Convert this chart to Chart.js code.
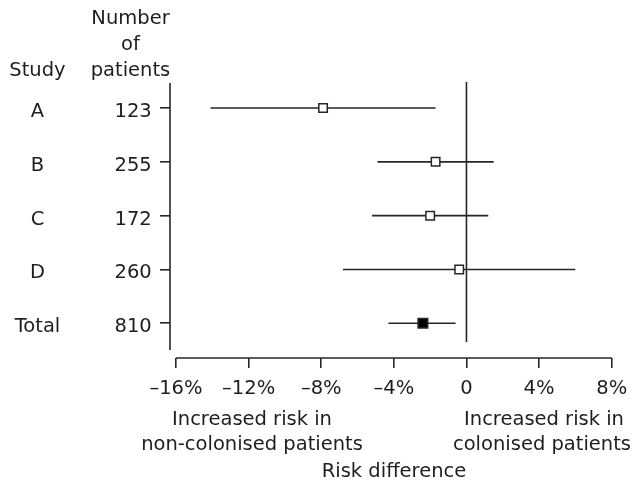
<!DOCTYPE html>
<html>
<head>
<meta charset="utf-8">
<script src="https://cdn.jsdelivr.net/npm/chart.js@4/dist/chart.umd.min.js"></script>
<style>
  html, body { margin: 0; padding: 0; background: #ffffff; }
  #wrap { width: 638px; height: 482px; }
</style>
</head>
<body>
<div id="wrap"><canvas id="forest" width="638" height="482"></canvas></div>
<script>
// Study rows, patient counts and risk differences (%) with 95% CI
const studies = ['A', 'B', 'C', 'D', 'Total'];
const patients = [123, 255, 172, 260, 810];
const riskDiff = [-7.9, -1.7, -2.0, -0.4, -2.4];
const ciLow = [-14.1, -4.9, -5.2, -6.8, -4.3];
const ciHigh = [-1.7, 1.5, 1.2, 6.0, -0.6];
const xTicks = [-16, -12, -8, -4, 0, 4, 8];

const INK = '#1e1e1e';
const LINE = '#262626';
const FONT = '"DejaVu Sans", sans-serif';
const FONT_SIZE = 19.5;
const ROW_BASELINE = 9;   // text baseline below each row's centre line

// One row per study, Total last
const rowOf = i => i + 1;

const ciDatasets = studies.map((s, i) => ({
  type: 'line',
  label: s + ' CI',
  data: [{ x: ciLow[i], y: rowOf(i) }, { x: ciHigh[i], y: rowOf(i) }],
  borderColor: LINE,
  borderWidth: 1.6,
  pointRadius: 0,
  showLine: true,
  order: 2
}));

const pointDataset = {
  type: 'scatter',
  label: 'Risk difference',
  data: studies.map((s, i) => ({ x: riskDiff[i], y: rowOf(i) })),
  pointStyle: 'rect',
  pointRadius: studies.map(s => (s === 'Total' ? 6.8 : 6)),
  backgroundColor: studies.map(s => (s === 'Total' ? '#000000' : '#ffffff')),
  borderColor: LINE,
  borderWidth: 1.5,
  order: 1
};

const fmtPct = v => (v === 0 ? '0' : (v < 0 ? '\u2013' + Math.abs(v) + '%' : v + '%'));

// Axis lines, the zero reference line and the row / margin labels
const forestDecor = {
  id: 'forestDecor',
  beforeDatasetsDraw(chart) {
    const { ctx, chartArea, scales: { x } } = chart;
    ctx.save();
    ctx.strokeStyle = LINE;
    ctx.lineWidth = 1.6;
    ctx.lineCap = 'butt';
    // left axis
    ctx.beginPath();
    ctx.moveTo(chartArea.left, chartArea.top);
    ctx.lineTo(chartArea.left, chartArea.bottom - 8);
    ctx.stroke();
    // bottom axis spanning the labelled range
    ctx.beginPath();
    ctx.moveTo(x.getPixelForValue(xTicks[0]), chartArea.bottom);
    ctx.lineTo(x.getPixelForValue(xTicks[xTicks.length - 1]), chartArea.bottom);
    ctx.stroke();
    // no-difference line
    const x0 = x.getPixelForValue(0);
    ctx.beginPath();
    ctx.moveTo(x0, chartArea.top - 1);
    ctx.lineTo(x0, chartArea.bottom - 16);
    ctx.stroke();
    ctx.restore();
  },
  afterDraw(chart) {
    const { ctx, chartArea, scales: { y } } = chart;
    ctx.save();
    ctx.fillStyle = INK;
    ctx.font = FONT_SIZE + 'px ' + FONT;
    ctx.textBaseline = 'alphabetic';
    // column headers
    ctx.textAlign = 'center';
    ctx.fillText('Number', 130.5, 23.5);
    ctx.fillText('of', 130.5, 49.5);
    ctx.fillText('patients', 130.5, 76);
    ctx.fillText('Study', 37.5, 76);
    // study names and patient counts on each row
    studies.forEach((s, i) => {
      const py = y.getPixelForValue(rowOf(i)) + ROW_BASELINE;
      ctx.textAlign = 'center';
      ctx.fillText(s, 37.5, py);
      ctx.textAlign = 'right';
      ctx.fillText(String(patients[i]), chartArea.left - 18.3, py);
    });
    // direction notes and axis title
    ctx.textAlign = 'center';
    ctx.fillText('Increased risk in', 252, 425);
    ctx.fillText('non-colonised patients', 252, 449.5);
    ctx.fillText('Increased risk in', 544, 425);
    ctx.fillText('colonised patients', 542, 449.5);
    ctx.fillText('Risk difference', 394, 477);
    ctx.restore();
  }
};

new Chart(document.getElementById('forest'), {
  data: { datasets: [...ciDatasets, pointDataset] },
  options: {
    responsive: false,
    animation: false,
    devicePixelRatio: 1,
    layout: { padding: { left: 0, top: 83, right: 26.3, bottom: 0 } },
    plugins: { legend: { display: false }, tooltip: { enabled: false } },
    scales: {
      x: {
        type: 'linear',
        min: -16.33,
        max: 8,
        afterBuildTicks: s => { s.ticks = xTicks.map(v => ({ value: v })); },
        afterFit: s => { s.height = 124; },
        border: { display: false },
        grid: { drawOnChartArea: false, drawTicks: true, tickLength: 10, color: LINE, lineWidth: 1.6 },
        ticks: {
          callback: v => fmtPct(v),
          color: INK,
          font: { family: FONT, size: FONT_SIZE },
          padding: 9,
          maxRotation: 0,
          autoSkip: false
        }
      },
      y: {
        type: 'linear',
        reverse: true,
        min: 0.535,
        max: 5.645,
        afterBuildTicks: s => { s.ticks = studies.map((_, i) => ({ value: rowOf(i) })); },
        afterFit: s => { s.width = 170; },
        border: { display: false },
        grid: { drawOnChartArea: false, drawTicks: true, tickLength: 10, color: LINE, lineWidth: 1.6 },
        ticks: { display: false, autoSkip: false }
      }
    }
  },
  plugins: [forestDecor]
});
</script>
</body>
</html>
